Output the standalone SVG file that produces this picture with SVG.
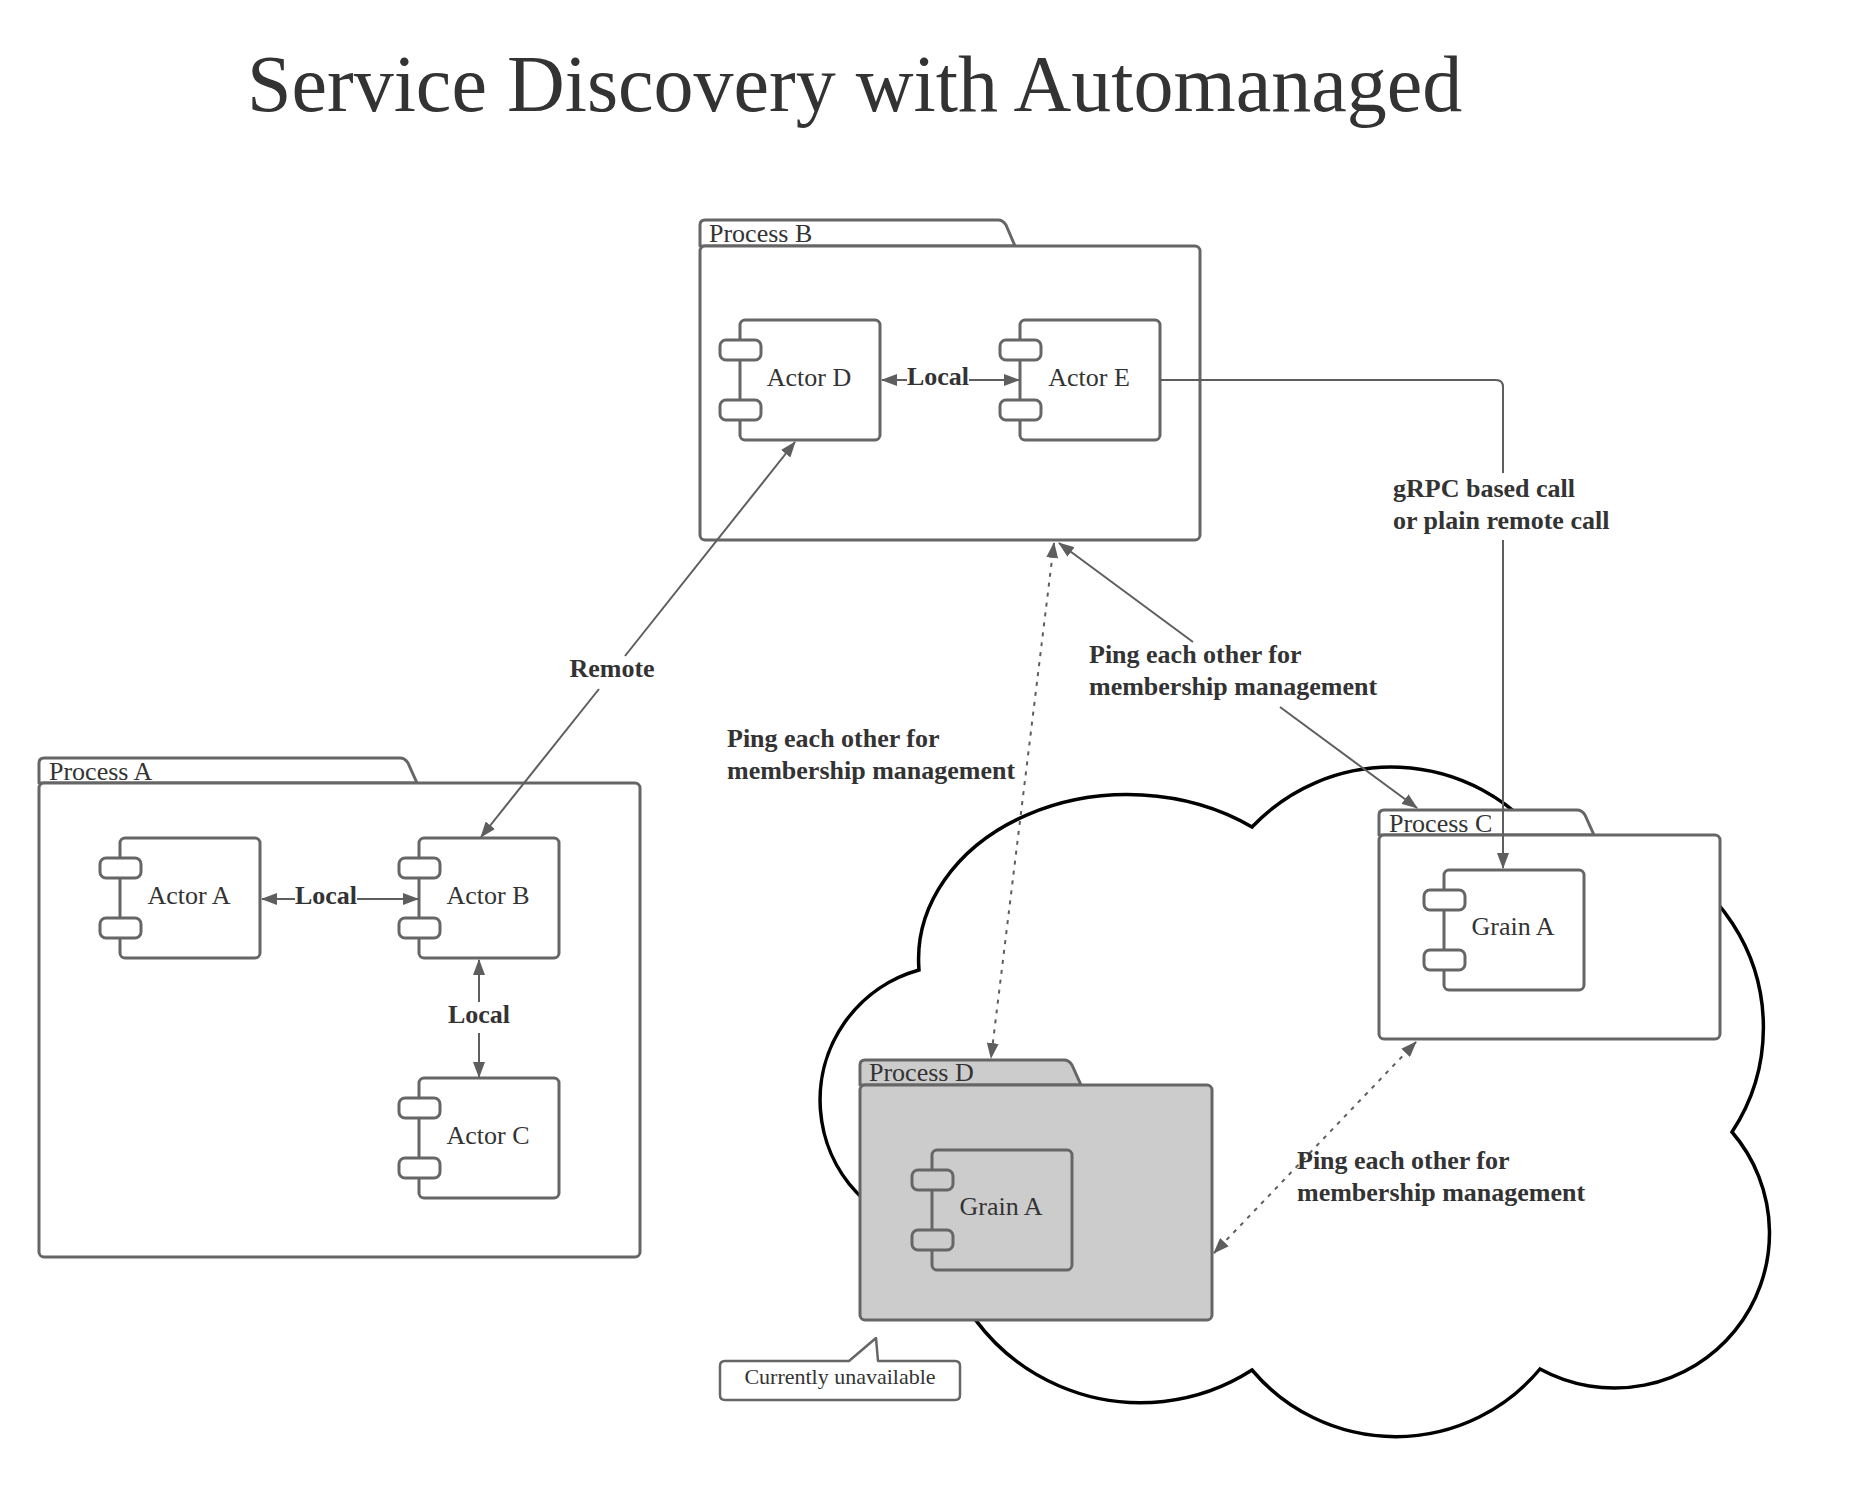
<svg xmlns="http://www.w3.org/2000/svg" width="1868" height="1500" viewBox="0 0 1868 1500">
<defs>
<style>
.shape{fill:#ffffff;stroke:#666666;stroke-width:3;stroke-linejoin:round}
.gray{fill:#cccccc}
.lbl{font-family:"Liberation Serif",serif;font-size:26px;fill:#333333}
.plbl{font-family:"Liberation Serif",serif;font-size:26px;fill:#333333}
.clbl{font-family:"Liberation Serif",serif;font-size:26px;font-weight:bold;fill:#333333}
.conn{fill:none;stroke:#5e5e5e;stroke-width:2}
.dot{stroke-dasharray:4 6}
.arr{marker-end:url(#ah)}
.arr2{marker-start:url(#ah);marker-end:url(#ah)}
</style>
<marker id="ah" viewBox="0 0 16 12" refX="15" refY="6" markerWidth="16" markerHeight="12" markerUnits="userSpaceOnUse" orient="auto-start-reverse">
<path d="M0,0 L16,6 L0,12 z" fill="#5e5e5e"/>
</marker>
</defs>
<rect width="1868" height="1500" fill="#ffffff"/>

<text id="title" x="247" y="111" font-family="Liberation Serif, serif" font-size="80" fill="#333333">Service Discovery with Automanaged</text>

<g id="cloud">
<path d="M919,970 A209,165 0 0 1 1252,827 A192,192 0 0 1 1542,840 A190,190 0 0 1 1732,1132 A155,155 0 0 1 1540,1369 A188,188 0 0 1 1252,1370 A206,206 0 0 1 938,1234 A135,135 0 0 1 919,970 Z" fill="#ffffff" stroke="#000000" stroke-width="3.5" stroke-linejoin="miter"/>
</g>

<g id="process-a">
<path class="shape" d="M39,783 V763 Q39,758 44,758 H400 Q405,758 408,763 L417,783 Z"/>
<rect class="shape" x="39" y="783" width="601" height="474" rx="5"/>
<text class="plbl" x="49" y="780">Process A</text>
</g>
<g id="actor-a">
<rect class="shape" x="120" y="838" width="140" height="120" rx="5"/>
<rect class="shape" x="100" y="858" width="41" height="20" rx="6"/>
<rect class="shape" x="100" y="918" width="41" height="20" rx="6"/>
<text class="lbl" x="189" y="904" text-anchor="middle">Actor A</text>
</g>
<g id="actor-b">
<rect class="shape" x="419" y="838" width="140" height="120" rx="5"/>
<rect class="shape" x="399" y="858" width="41" height="20" rx="6"/>
<rect class="shape" x="399" y="918" width="41" height="20" rx="6"/>
<text class="lbl" x="488" y="904" text-anchor="middle">Actor B</text>
</g>
<g id="actor-c">
<rect class="shape" x="419" y="1078" width="140" height="120" rx="5"/>
<rect class="shape" x="399" y="1098" width="41" height="20" rx="6"/>
<rect class="shape" x="399" y="1158" width="41" height="20" rx="6"/>
<text class="lbl" x="488" y="1144" text-anchor="middle">Actor C</text>
</g>

<g id="process-b">
<path class="shape" d="M700,246 V225 Q700,220 705,220 H998 Q1003,220 1006,225 L1015,246 Z"/>
<rect class="shape" x="700" y="246" width="500" height="294" rx="5"/>
<text class="plbl" x="709" y="242">Process B</text>
</g>
<g id="actor-d">
<rect class="shape" x="740" y="320" width="140" height="120" rx="5"/>
<rect class="shape" x="720" y="340" width="41" height="20" rx="6"/>
<rect class="shape" x="720" y="400" width="41" height="20" rx="6"/>
<text class="lbl" x="809" y="386" text-anchor="middle">Actor D</text>
</g>
<g id="actor-e">
<rect class="shape" x="1020" y="320" width="140" height="120" rx="5"/>
<rect class="shape" x="1000" y="340" width="41" height="20" rx="6"/>
<rect class="shape" x="1000" y="400" width="41" height="20" rx="6"/>
<text class="lbl" x="1089" y="386" text-anchor="middle">Actor E</text>
</g>

<g id="process-c">
<path class="shape" d="M1379,835 V815 Q1379,810 1384,810 H1577 Q1582,810 1585,815 L1594,835 Z"/>
<rect class="shape" x="1379" y="835" width="341" height="204" rx="5"/>
<text class="plbl" x="1389" y="832">Process C</text>
</g>
<g id="grain-a-c">
<rect class="shape" x="1444" y="870" width="140" height="120" rx="5"/>
<rect class="shape" x="1424" y="890" width="41" height="20" rx="6"/>
<rect class="shape" x="1424" y="950" width="41" height="20" rx="6"/>
<text class="lbl" x="1513" y="935" text-anchor="middle">Grain A</text>
</g>

<g id="process-d">
<path class="shape gray" d="M860,1085 V1065 Q860,1060 865,1060 H1064 Q1069,1060 1072,1065 L1081,1085 Z"/>
<rect class="shape gray" x="860" y="1085" width="352" height="235" rx="5"/>
<text class="plbl" x="869" y="1081">Process D</text>
</g>
<g id="grain-a-d">
<rect class="shape gray" x="932" y="1150" width="140" height="120" rx="5"/>
<rect class="shape gray" x="912" y="1170" width="41" height="20" rx="6"/>
<rect class="shape gray" x="912" y="1230" width="41" height="20" rx="6"/>
<text class="lbl" x="1001" y="1215" text-anchor="middle">Grain A</text>
</g>

<g id="callout">
<path d="M725,1361 H849 L876,1338 L878,1361 H955 Q960,1361 960,1366 V1395 Q960,1400 955,1400 H725 Q720,1400 720,1395 V1366 Q720,1361 725,1361 Z" fill="#ffffff" stroke="#666666" stroke-width="2.5" stroke-linejoin="round"/>
<text x="840" y="1384" text-anchor="middle" font-family="Liberation Serif, serif" font-size="22" fill="#333333">Currently unavailable</text>
</g>

<g id="connectors">
<line class="conn arr" x1="295" y1="899" x2="262" y2="899"/>
<line class="conn arr" x1="357" y1="899" x2="418" y2="899"/>
<text class="clbl" x="326" y="904" text-anchor="middle">Local</text>
<line class="conn arr" x1="479" y1="1002" x2="479" y2="960"/>
<line class="conn arr" x1="479" y1="1033" x2="479" y2="1077"/>
<text class="clbl" x="479" y="1023" text-anchor="middle">Local</text>
<line class="conn arr" x1="907" y1="380" x2="882" y2="380"/>
<line class="conn arr" x1="969" y1="380" x2="1019" y2="380"/>
<text class="clbl" x="938" y="385" text-anchor="middle">Local</text>
<line class="conn arr" x1="599" y1="689" x2="481" y2="837"/>
<line class="conn arr" x1="625" y1="656" x2="795" y2="442"/>
<text class="clbl" x="612" y="677" text-anchor="middle">Remote</text>
<path class="conn" d="M1160,380 H1496 Q1503,380 1503,387 V473"/>
<line class="conn arr" x1="1503" y1="540" x2="1503" y2="868"/>
<text class="clbl" x="1393" y="497">gRPC based call</text>
<text class="clbl" x="1393" y="529">or plain remote call</text>
<line class="conn dot arr2" x1="1054" y1="543" x2="991" y2="1058"/>
<text class="clbl" x="727" y="747">Ping each other for</text>
<text class="clbl" x="727" y="779">membership management</text>
<line class="conn arr" x1="1193" y1="642" x2="1059" y2="543"/>
<line class="conn arr" x1="1280" y1="707" x2="1417" y2="808"/>
<text class="clbl" x="1089" y="663">Ping each other for</text>
<text class="clbl" x="1089" y="695">membership management</text>
<line class="conn dot arr2" x1="1416" y1="1042" x2="1214" y2="1253"/>
<text class="clbl" x="1297" y="1169">Ping each other for</text>
<text class="clbl" x="1297" y="1201">membership management</text>
</g>
</svg>
